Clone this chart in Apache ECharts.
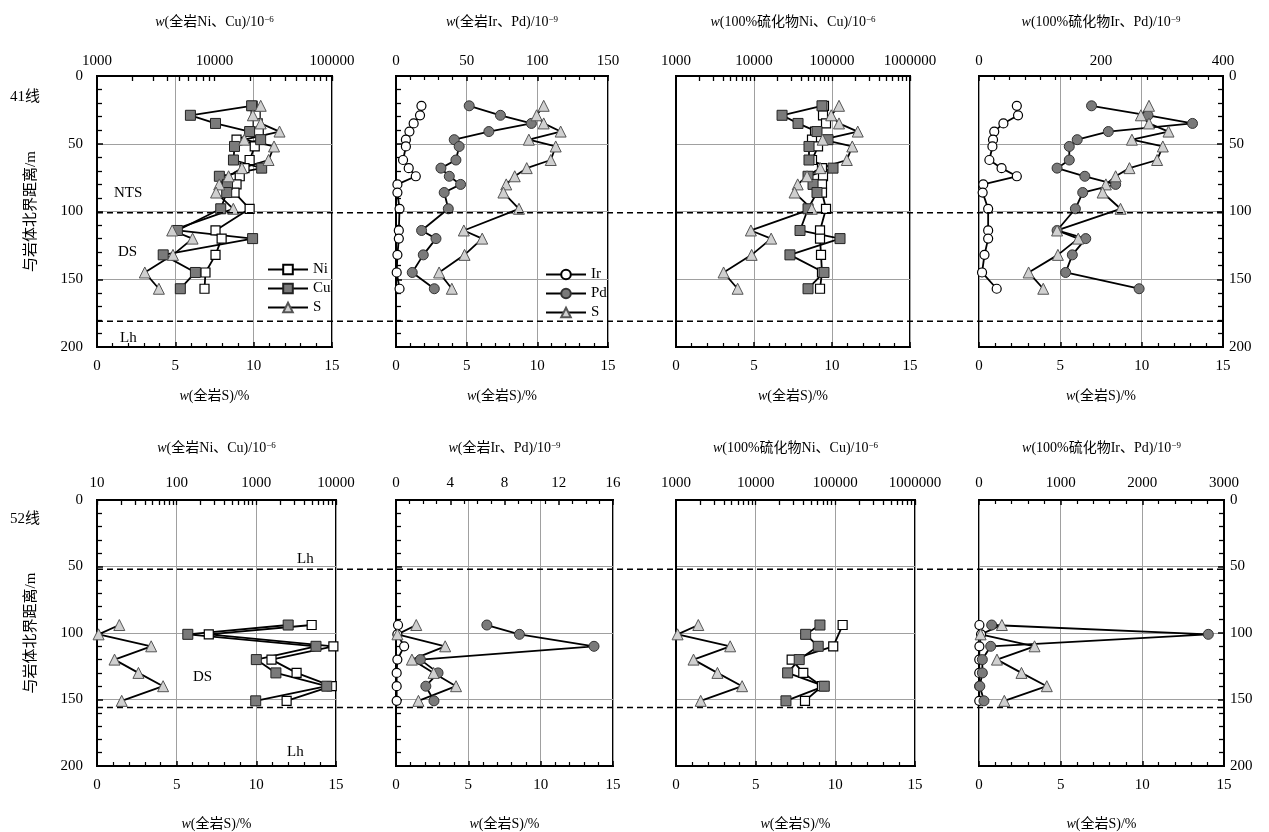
<!DOCTYPE html>
<html><head><meta charset="utf-8">
<script src="https://cdn.jsdelivr.net/npm/echarts@6/dist/echarts.min.js"></script>
<style>html,body{margin:0;padding:0;background:#fff}#c{width:1269px;height:832px}</style>
</head><body><div id="c"></div>
<script>
// ---------- DATA: line 41 (top row) ----------
const depthTop   = [22,29,35,41,47,52,62,68,74,80,86,98,114,120,132,145,157];
const sTop       = [10.45,9.95,10.45,11.65,9.4,11.3,10.95,9.25,8.4,7.8,7.6,8.7,4.8,6.1,4.85,3.05,3.95];
const niRockTop  = [21100,22400,23300,23800,15400,22000,19900,18000,16400,15400,14800,19900,10200,11500,10200,8380,8220];
const cuRockTop  = [20700,6240,10200,19900,24700,14800,14500,25200,11000,12900,12700,11300,4830,21100,3660,6880,5120];
const irRockTop  = [18,17,12.5,9.5,7,7,5,9,14,1,1,2.5,2,2,1,0.5,2.5];
const pdRockTop  = [51.8,73.9,95.8,65.7,41.2,44.7,42.4,31.8,37.7,45.7,34.1,37,18.1,28.3,19.3,11.5,27.1];
const niSulfTop  = [78900,76700,83800,60600,55400,66200,55400,74400,76700,74400,74400,83800,70200,70200,72300,74400,70200];
const cuSulfTop  = [74400,22900,36700,64200,88900,50700,50700,103000,49300,57100,64200,49300,38900,126700,28900,78900,49300];
const irSulfTop  = [62,64,40,25,23,22,17,37,62,7,6,15,15,15,9,5,29];
const pdSulfTop  = [184.5,277,350,212,161,148,148,128,173.5,224,170,158,128,175,153,142,262.5];
// ---------- DATA: line 52 (bottom row) ----------
const depthBot   = [94,101,110,120,130,140,151];
const sBot       = [1.4,0.1,3.4,1.1,2.6,4.15,1.55];
const niRockBot  = [4950,253,9270,1550,3200,8850,2400];
const cuRockBot  = [2510,138,5610,1000,1760,7650,982];
const irRockBot  = [0.15,0.1,0.6,0.1,0.05,0.05,0.05];
const pdRockBot  = [6.7,9.1,14.6,1.8,3.1,2.2,2.8];
const niSulfBot  = [123500,null,94100,28300,39600,67900,41600];
const cuSulfBot  = [64100,42400,61000,35200,25200,72600,24000];
const irSulfBot  = [5,25,5,3,3,3,3];
const pdSulfBot  = [155,2808,143,41,41,10,61];
// boundaries (depth, m)
const boundaryTop = [101, 181];
const boundaryBot = [52, 156];
// tick labels
const depthTicks = [0, 200, 50];
const sTicks = [0, 15, 5];
const titles = ['全岩Ni、Cu)/10|−6','全岩Ir、Pd)/10|−9','100%硫化物Ni、Cu)/10|−6','100%硫化物Ir、Pd)/10|−9'];

const FONT = "'Liberation Serif','DejaVu Serif','Noto Sans CJK SC',serif";
const grids = [
  {left:97, top:76, width:235, height:271},
  {left:396, top:76, width:212, height:271},
  {left:676, top:76, width:234, height:271},
  {left:979, top:76, width:244, height:271},
  {left:97, top:500, width:239, height:270},
  {left:396, top:500, width:217, height:270},
  {left:676, top:500, width:239, height:270},
  {left:979, top:500, width:245, height:270}
];
const topScales = [
  {type:'log', min:1000, max:100000},
  {type:'value', min:0, max:150, interval:50, minor:5},
  {type:'log', min:1000, max:1000000},
  {type:'value', min:0, max:400, interval:200, minor:8},
  {type:'log', min:10, max:10000},
  {type:'value', min:0, max:16, interval:4, minor:4},
  {type:'log', min:1000, max:1000000},
  {type:'value', min:0, max:3000, interval:1000, minor:5}
];
const seriesSpec = [
  [['Ni',niRockTop,'t'],['Cu',cuRockTop,'t'],['S',sTop,'b']],
  [['Ir',irRockTop,'t'],['Pd',pdRockTop,'t'],['S',sTop,'b']],
  [['Ni',niSulfTop,'t'],['Cu',cuSulfTop,'t'],['S',sTop,'b']],
  [['Ir',irSulfTop,'t'],['Pd',pdSulfTop,'t'],['S',sTop,'b']],
  [['Ni',niRockBot,'t'],['Cu',cuRockBot,'t'],['S',sBot,'b']],
  [['Ir',irRockBot,'t'],['Pd',pdRockBot,'t'],['S',sBot,'b']],
  [['Ni',niSulfBot,'t'],['Cu',cuSulfBot,'t'],['S',sBot,'b']],
  [['Ir',irSulfBot,'t'],['Pd',pdSulfBot,'t'],['S',sBot,'b']]
];
const styles = {
  Ni:{symbol:'rect', symbolSize:9, itemStyle:{color:'#fff', borderColor:'#000', borderWidth:1.2}},
  Cu:{symbol:'rect', symbolSize:10, itemStyle:{color:'#7a7a7a', borderColor:'#222', borderWidth:1}},
  S:{symbol:'triangle', symbolSize:11, itemStyle:{color:'#d0d0d0', borderColor:'#555', borderWidth:1}},
  Ir:{symbol:'circle', symbolSize:9, itemStyle:{color:'#fff', borderColor:'#000', borderWidth:1.2}},
  Pd:{symbol:'circle', symbolSize:10, itemStyle:{color:'#7a7a7a', borderColor:'#333', borderWidth:1}}
};
function logTicks(min, max){
  const out=[];
  for(let d=min; d<max*1.0001; d*=10){ for(let k=1;k<=9;k++){ const v=d*k; if(v<=max*1.0001) out.push(v);} }
  return out;
}
const blk = {color:'#000', width:2};
const xAxes=[], yAxes=[], series=[];
grids.forEach((g,i)=>{
  const top = i<4;
  const col = i%4;
  // bottom S axis
  xAxes.push({
    type:'value', gridIndex:i, position:'bottom', min:sTicks[0], max:sTicks[1], interval:sTicks[2],
    axisLine:{show:true, onZero:false, lineStyle:blk},
    axisTick:{show:true, inside:true, length:5, lineStyle:{color:'#000', width:1.5}},
    minorTick:{show:true, splitNumber:5, length:4, lineStyle:{color:'#000', width:1.2}},
    axisLabel:{color:'#000', fontSize:15, fontFamily:FONT, margin:12},
    splitLine:{show:true, lineStyle:{color:'#a0a0a0', width:1}},
    name:'{i|w}(全岩S)/%', nameLocation:'middle', nameGap: top?42:51,
    nameTextStyle:{color:'#000', fontSize:14, fontFamily:FONT, rich:{i:{fontStyle:'italic', fontSize:14, fontFamily:FONT}}}
  });
  const ts = topScales[i];
  const parts = titles[col].split('|');
  const ax = {
    type:ts.type, gridIndex:i, position:'top', min:ts.min, max:ts.max,
    axisLine:{show:true, onZero:false, lineStyle:blk},
    axisLabel:{color:'#000', fontSize:15, fontFamily:FONT, margin: top?7:9,
      formatter:(v)=>String(Math.round(v))},
    splitLine:{show:false},
    name:'{i|w}('+parts[0]+'{s|'+parts[1]+'}', nameLocation:'middle', nameGap: top?47:45,
    nameTextStyle:{color:'#000', fontSize:14, fontFamily:FONT,
      rich:{i:{fontStyle:'italic', fontSize:14, fontFamily:FONT}, s:{fontSize:9, verticalAlign:'top', fontFamily:FONT}}}
  };
  if(ts.type==='log'){
    ax.logBase=10;
    ax.axisTick={show:true, inside:true, length:5, customValues:logTicks(ts.min, ts.max), lineStyle:{color:'#000', width:1.3}};
  } else {
    ax.interval=ts.interval;
    ax.axisTick={show:true, inside:true, length:5, lineStyle:{color:'#000', width:1.5}};
    ax.minorTick={show:true, splitNumber:ts.minor, length:4, lineStyle:{color:'#000', width:1.2}};
  }
  xAxes.push(ax);
  const showLab = col===0 || col===3;
  const ya = {
    type:'value', gridIndex:i, inverse:true, min:depthTicks[0], max:depthTicks[1], interval:depthTicks[2],
    position: col===3 ? 'right':'left',
    axisLine:{show:true, onZero:false, lineStyle:blk},
    axisTick:{show: col!==2, inside:true, length:6, lineStyle:{color:'#000', width:1.5}},
    minorTick:{show: col!==2, splitNumber:5, length:5, lineStyle:{color:'#000', width:1.3}},
    axisLabel:{show:showLab, color:'#000', fontSize:15, fontFamily:FONT, margin: col===0?14:6},
    splitLine:{show:true, lineStyle:{color:'#a0a0a0', width:1}}
  };
  if(col===0){
    ya.name='与岩体北界距离/m'; ya.nameLocation='middle'; ya.nameGap=58;
    ya.nameTextStyle={color:'#000', fontSize:15, fontFamily:FONT};
  }
  yAxes.push(ya);
  const depths = top ? depthTop : depthBot;
  seriesSpec[i].forEach(([name, vals, which])=>{
    series.push(Object.assign({
      type:'line', name, xAxisIndex: which==='t' ? 2*i+1 : 2*i, yAxisIndex:i,
      data: vals.map((v,k)=>[v===null?'-':v, depths[k]]),
      connectNulls:true, animation:false,
      lineStyle:{color:'#000', width:1.8},
      emphasis:{disabled:true}
    }, styles[name]));
  });
});

const legendBase = {orient:'vertical', itemWidth:40, itemHeight:12, itemGap:4, selectedMode:false,
  textStyle:{color:'#000', fontSize:15, fontFamily:FONT}};
const option = {
  backgroundColor:'#fff', animation:false,
  grid: grids.map(g=>Object.assign({show:true, borderColor:'#000', borderWidth:2, backgroundColor:'transparent'}, g)),
  xAxis: xAxes, yAxis: yAxes, series,
  legend:[
    Object.assign({}, legendBase, {left:262, top:257, data:['Ni','Cu','S']}),
    Object.assign({}, legendBase, {left:540, top:262, data:['Ir','Pd','S']})
  ]
};
const chart = echarts.init(document.getElementById('c'), null, {renderer:'canvas'});
chart.setOption(option);

// dashed boundary lines spanning each row and annotation texts
const gfx = [];
function hlines(depths, yIdx, xL, xR){
  const x1 = chart.convertToPixel({xAxisIndex:xL}, sTicks[0]);
  const x2 = chart.convertToPixel({xAxisIndex:xR}, sTicks[1]);
  depths.forEach(d=>{
    const y = chart.convertToPixel({yAxisIndex:yIdx}, d);
    gfx.push({type:'line', z:50, shape:{x1, y1:y, x2, y2:y}, style:{stroke:'#000', lineWidth:1.5, lineDash:[6,4]}});
  });
}
hlines(boundaryTop, 0, 0, 14);
hlines(boundaryBot, 4, 8, 14);
const texts = [
  ['41线', 10, 97], ['NTS', 114, 193], ['DS', 118, 252], ['Lh', 120, 338],
  ['52线', 10, 519], ['Lh', 297, 559], ['DS', 193, 677], ['Lh', 287, 752]
];
texts.forEach(([t,x,y])=>gfx.push({type:'text', z:60, x, y, style:{text:t, fill:'#000', font:'15px '+FONT, textVerticalAlign:'middle'}}));
chart.setOption({graphic:gfx});
</script></body></html>
